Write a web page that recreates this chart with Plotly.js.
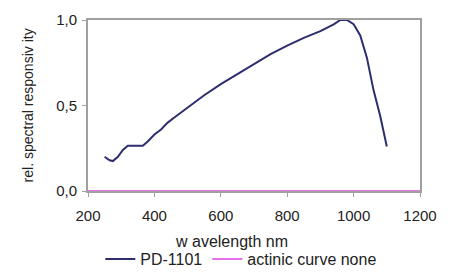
<!DOCTYPE html>
<html><head><meta charset="utf-8">
<script src="https://cdn.plot.ly/plotly-3.0.1.min.js"></script>
<style>html,body{margin:0;padding:0;background:#fff}#chart{width:457px;height:276px}</style>
</head><body><div id="chart"></div>
<script>
const wavelength = [250,265,275,290,305,320,340,365,380,400,420,440,460,480,500,550,600,650,700,750,800,850,900,940,960,980,1000,1020,1040,1060,1080,1100];
const responsivity = [0.20,0.18,0.175,0.20,0.24,0.265,0.265,0.265,0.29,0.33,0.36,0.40,0.43,0.46,0.485,0.56,0.625,0.685,0.745,0.80,0.85,0.895,0.935,0.975,1.0,1.0,0.975,0.91,0.78,0.59,0.44,0.26];
const actinicX = [200,1200];
const actinicY = [0,0];
const yTickVals = [0,0.5,1];
const yTickText = ["0,0","0,5","1,0"];
const xTickVals = [200,400,600,800,1000,1200];

const fam = "Liberation Sans, Arial, sans-serif";
const traces = [
  {x:wavelength, y:responsivity, mode:"lines", name:"PD-1101", line:{color:"#2e2e6e", width:2}},
  {x:actinicX, y:actinicY, mode:"lines", name:"actinic curve none", line:{color:"#e040e0", width:1.5}, cliponaxis:false}
];
const layout = {
  width:457, height:276,
  margin:{l:88, r:37, t:20, b:85, autoexpand:false},
  paper_bgcolor:"#fff", plot_bgcolor:"#fff",
  font:{family:fam, size:15, color:"#222"},
  showlegend:true,
  legend:{orientation:"h", xref:"container", yref:"container", x:0.528, xanchor:"center", y:-0.018, yanchor:"bottom", font:{family:fam,size:16,color:"#222"}, itemwidth:30, bgcolor:"rgba(0,0,0,0)"},
  xaxis:{range:[200,1200], tickvals:xTickVals, showgrid:false, zeroline:false, showline:true, linecolor:"#a0a0a0", linewidth:2, mirror:true, ticks:"outside", ticklen:4, tickcolor:"#a0a0a0", tickfont:{size:15}, ticklabelstandoff:6},
  yaxis:{range:[0,1], tickvals:yTickVals, ticktext:yTickText, showgrid:false, zeroline:false, showline:true, linecolor:"#a0a0a0", linewidth:2, mirror:true, ticks:"outside", ticklen:4, tickcolor:"#a0a0a0", tickfont:{size:15}, ticklabelstandoff:2},
  annotations:[
    {text:"w avelength nm", xref:"paper", yref:"paper", x:0.432, y:-0.298, xanchor:"center", yanchor:"middle", showarrow:false, font:{size:16}},
    {text:"rel. spectral responsiv ity", xref:"paper", yref:"paper", x:-0.181, y:0.5, xanchor:"center", yanchor:"middle", textangle:-90, showarrow:false, font:{size:14}}
  ]
};
Plotly.newPlot("chart", traces, layout, {staticPlot:true, displayModeBar:false});
</script></body></html>
